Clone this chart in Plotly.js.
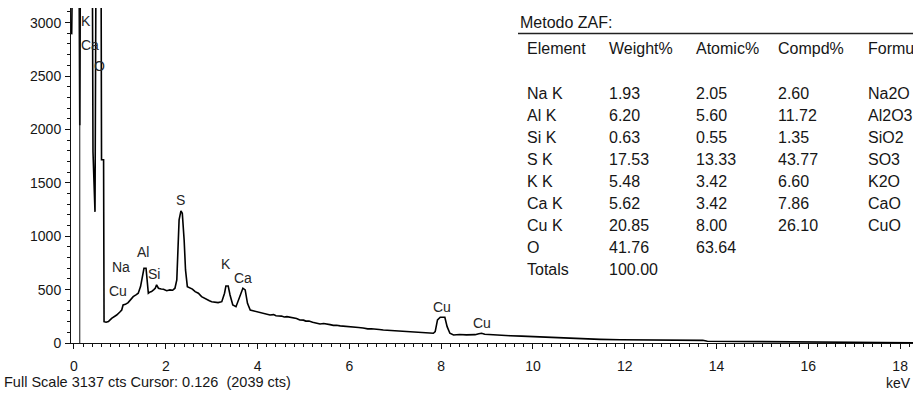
<!DOCTYPE html>
<html>
<head>
<meta charset="utf-8">
<script src="https://cdn.plot.ly/plotly-3.0.1.min.js"></script>
<style>
  html, body { margin: 0; padding: 0; background: #fff; overflow: hidden; }
  #chart { width: 913px; height: 394px; }
</style>
</head>
<body>
<div id="chart"></div>
<script>
// EDS spectrum: energy (keV) and counts per channel
const energyKeV = [
  -0.05, -0.03, 0.11, 0.126, 0.14, 0.40, 0.414, 0.458, 0.48, 0.59, 0.60, 0.645, 0.655,
  0.70, 0.75, 0.82, 0.88, 0.93, 1.00, 1.04, 1.07, 1.12, 1.18, 1.24, 1.29, 1.35, 1.40,
  1.45, 1.50, 1.525, 1.57, 1.60, 1.62, 1.66, 1.69, 1.74, 1.77, 1.80, 1.84, 1.90, 1.95,
  2.02, 2.09, 2.15, 2.20, 2.24, 2.27, 2.29, 2.33, 2.36, 2.40, 2.43, 2.47, 2.53, 2.58,
  2.64, 2.71, 2.78, 2.84, 2.89, 2.95, 3.00, 3.07, 3.14, 3.22, 3.28, 3.31, 3.36, 3.40,
  3.46, 3.53, 3.60, 3.68, 3.73, 3.78, 3.84, 3.92, 3.98, 4.05, 4.13, 4.20, 4.27, 4.35,
  4.40, 4.52, 4.58, 4.64, 4.72, 4.78, 4.85, 4.92, 5.00, 5.05, 5.12, 5.20, 5.28, 5.36,
  5.44, 5.50, 5.58, 5.65, 5.72, 5.80, 5.90, 6.01, 6.10, 6.20, 6.30, 6.40, 6.48, 6.55,
  6.65, 6.74, 6.82, 6.90, 7.00, 7.10, 7.20, 7.30, 7.40, 7.47, 7.56, 7.65, 7.75, 7.83,
  7.87, 7.92, 7.98, 8.08, 8.13, 8.19, 8.27, 8.40, 8.55, 8.74, 8.82, 8.88, 8.95, 9.07,
  9.28, 9.50, 9.75, 10.00, 10.35, 10.74, 11.10, 11.46, 11.90, 12.30, 12.80, 13.30,
  13.70, 13.80, 14.20, 14.60, 15.00, 15.40, 15.80, 16.20, 16.60, 17.00, 17.50, 18.00, 18.28
];
const counts = [
  2890, 3600, 3600, 2039, 3600, 3600, 1790, 1228, 3600, 3600, 1716, 1716, 200,
  194, 200, 231, 245, 262, 290, 309, 356, 362, 378, 410, 434, 450, 466,
  528, 622, 700, 700, 590, 466, 478, 481, 500, 513, 544, 513, 506, 503,
  490, 497, 494, 513, 590, 903, 1153, 1237, 1215, 965, 684, 528, 513, 505,
  481, 466, 434, 420, 403, 395, 387, 384, 378, 387, 466, 534, 534, 450,
  356, 340, 419, 513, 497, 372, 309, 300, 294, 285, 278, 270, 262, 266,
  255, 252, 244, 247, 240, 232, 230, 216, 214, 205, 206, 195, 190, 178,
  182, 175, 172, 165, 166, 160, 158, 153, 150, 145, 140, 132, 134, 128,
  126, 122, 120, 115, 116, 110, 106, 102, 100, 97, 98, 95, 92, 91,
  106, 216, 241, 241, 153, 91, 75, 80, 76, 78, 86, 91, 82, 78,
  75, 68, 64, 59, 52, 44, 38, 34, 30, 30, 28, 27,
  25, 16, 15, 14, 13, 12, 12, 10, 8, 6, 5, 4, 3
];

// Acquisition readout
const fullScaleCts = 3137;
const cursorKeV = 0.126;
const cursorCts = 2039;

// Peak identification labels (line energy in keV)
const peakNames = ['K', 'Ca', 'O', 'Cu', 'Na', 'Al', 'Si', 'S', 'K', 'Ca', 'Cu', 'Cu'];
const peakKeV   = [0.27, 0.35, 0.56, 0.95, 1.03, 1.50, 1.74, 2.32, 3.31, 3.69, 8.01, 8.89];
const peakLabelHeight = [3012, 2794, 2597, 484, 709, 850, 644, 1340, 738, 612, 340, 190];

// Quantification results (ZAF)
const tableHeaders = ['Element', 'Weight%', 'Atomic%', 'Compd%', 'Formula'];
const elements = ['Na K', 'Al K', 'Si K', 'S K', 'K K', 'Ca K', 'Cu K', 'O', 'Totals'];
const weightPct = ['1.93', '6.20', '0.63', '17.53', '5.48', '5.62', '20.85', '41.76', '100.00'];
const atomicPct = ['2.05', '5.60', '0.55', '13.33', '3.42', '3.42', '8.00', '63.64', ''];
const compdPct  = ['2.60', '11.72', '1.35', '43.77', '6.60', '7.86', '26.10', '', ''];
const formulas  = ['Na2O', 'Al2O3', 'SiO2', 'SO3', 'K2O', 'CaO', 'CuO', '', ''];

// Plot-area geometry in pixels, used to place page-level text
const W = 913, H = 394;
const M = { l: 71, r: 0, t: 8, b: 51 };
const plotW = W - M.l - M.r, plotH = H - M.t - M.b;
const px = x => (x - M.l) / plotW;
const py = y => (H - M.b - y) / plotH;

const FONT = 'Liberation Sans, Arial, sans-serif';
const ink = '#161616';

const annotations = [];

peakNames.forEach((name, i) => {
  annotations.push({
    x: peakKeV[i], y: peakLabelHeight[i], xref: 'x', yref: 'y',
    text: name, showarrow: false, xanchor: 'center', yanchor: 'middle',
    font: { family: FONT, size: 14, color: '#262626' }
  });
});

// ZAF table
const colLeft = [525, 607, 694, 776, 866];
const rowTop = 93.5, rowStep = 22;
annotations.push({
  x: px(518), y: py(22.5), xref: 'paper', yref: 'paper', text: 'Metodo ZAF:',
  showarrow: false, xanchor: 'left', yanchor: 'middle',
  font: { family: FONT, size: 16, color: ink }
});
tableHeaders.forEach((h, c) => {
  annotations.push({
    x: px(colLeft[c]), y: py(48), xref: 'paper', yref: 'paper', text: h,
    showarrow: false, xanchor: 'left', yanchor: 'middle',
    font: { family: FONT, size: 16, color: ink }
  });
});
const columns = [elements, weightPct, atomicPct, compdPct, formulas];
elements.forEach((_, r) => {
  columns.forEach((col, c) => {
    if (!col[r]) return;
    annotations.push({
      x: px(colLeft[c]), y: py(rowTop + r * rowStep), xref: 'paper', yref: 'paper',
      text: col[r], showarrow: false, xanchor: 'left', yanchor: 'middle',
      font: { family: FONT, size: 16, color: ink }
    });
  });
});

// Status line and axis unit
annotations.push({
  x: px(2), y: py(382), xref: 'paper', yref: 'paper',
  text: 'Full Scale ' + fullScaleCts + ' cts Cursor: ' + cursorKeV.toFixed(3) + '  (' + cursorCts + ' cts)',
  showarrow: false, xanchor: 'left', yanchor: 'middle',
  font: { family: FONT, size: 14.5, color: ink }
});
annotations.push({
  x: px(913), y: py(383), xref: 'paper', yref: 'paper', text: 'keV',
  showarrow: false, xanchor: 'right', yanchor: 'middle',
  font: { family: FONT, size: 14, color: ink }
});
annotations.push({
  x: px(913), y: py(5), xref: 'paper', yref: 'paper', text: '200',
  showarrow: false, xanchor: 'right', yanchor: 'bottom',
  font: { family: FONT, size: 16, color: ink }
});

const shapes = [
  // cursor marker
  { type: 'line', xref: 'x', yref: 'y', x0: cursorKeV, x1: cursorKeV, y0: 0, y1: fullScaleCts,
    line: { color: '#111', width: 1 } },
  // rule under the table title
  { type: 'line', xref: 'paper', yref: 'paper', x0: px(518), x1: px(913), y0: py(33.5), y1: py(33.5),
    line: { color: '#222', width: 1.5 } }
];

const trace = {
  x: energyKeV, y: counts, type: 'scatter', mode: 'lines',
  line: { color: '#000', width: 1.6 }, hoverinfo: 'skip'
};

const axisCommon = {
  showgrid: false, zeroline: false, showline: true, linecolor: '#111', linewidth: 1,
  ticks: 'outside', tickcolor: '#111', tickwidth: 1, ticklen: 5,
  tickfont: { family: FONT, size: 14, color: ink }
};

const layout = {
  width: W, height: H, margin: M,
  paper_bgcolor: '#fff', plot_bgcolor: '#fff', showlegend: false,
  xaxis: Object.assign({}, axisCommon, {
    range: [-0.065, 18.28], tickmode: 'linear', tick0: 0, dtick: 2,
    ticklabelstandoff: 5,
    minor: { dtick: 0.2, ticks: 'outside', ticklen: 3, tickcolor: '#111', tickwidth: 1 }
  }),
  yaxis: Object.assign({}, axisCommon, {
    range: [0, fullScaleCts], tickmode: 'linear', tick0: 0, dtick: 500,
    ticklabelstandoff: 1,
    minor: { dtick: 100, ticks: 'outside', ticklen: 3, tickcolor: '#111', tickwidth: 1 }
  }),
  annotations: annotations,
  shapes: shapes
};

Plotly.newPlot('chart', [trace], layout, { displayModeBar: false, staticPlot: true });
</script>
</body>
</html>
